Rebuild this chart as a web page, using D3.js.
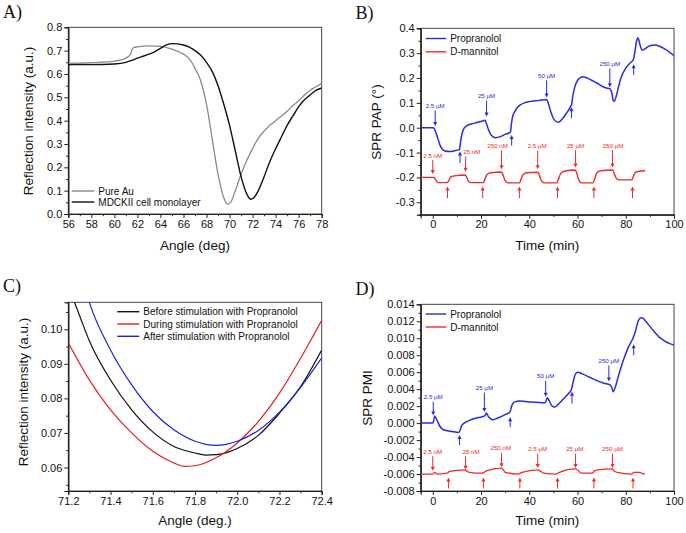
<!DOCTYPE html>
<html><head><meta charset="utf-8">
<script src="https://cdn.jsdelivr.net/npm/d3@7"></script>
<style>body{margin:0;background:#fff} svg{display:block}</style>
</head><body><svg id="c" width="686" height="533"></svg>
<script>
// ---------- Panel A data ----------
const pureAu = [[56,0.645],[58,0.648],[60,0.655],[61,0.668],[61.4,0.685],[61.55,0.705],[61.7,0.714],[62,0.716],[63,0.72],[64,0.718],[65,0.706],[66,0.685],[66.5,0.665],[67,0.625],[67.5,0.57],[68,0.47],[68.5,0.32],[69,0.17],[69.5,0.07],[69.8,0.042],[70.1,0.05],[70.5,0.1],[71,0.17],[71.5,0.23],[72,0.28],[72.5,0.325],[73,0.355],[73.5,0.38],[74,0.4],[74.5,0.42],[75,0.44],[75.5,0.465],[76,0.485],[76.5,0.51],[77,0.53],[77.5,0.545],[78,0.56]];
const mdck = [[56,0.64],[58,0.64],[60,0.643],[61,0.65],[61.5,0.658],[62,0.668],[62.5,0.676],[63,0.685],[63.5,0.695],[64,0.71],[64.5,0.724],[65,0.73],[65.5,0.729],[66,0.724],[66.5,0.715],[67,0.7],[67.5,0.68],[68,0.65],[68.5,0.61],[69,0.55],[69.5,0.47],[70,0.38],[70.5,0.27],[71,0.16],[71.5,0.085],[71.85,0.063],[72.2,0.075],[72.5,0.1],[73,0.16],[73.5,0.225],[74,0.28],[74.5,0.33],[75,0.38],[75.5,0.42],[76,0.46],[76.5,0.49],[77,0.51],[77.5,0.53],[78,0.54]];
const legendA = ["Pure Au","MDCKII cell monolayer"];

// ---------- Panel B data (SPR PAP) ----------
const propPAP = [[-5,0],[0,0],[0.5,-0.002],[1,-0.012],[2,-0.04],[3,-0.07],[4,-0.087],[5,-0.094],[7,-0.096],[9,-0.093],[11,-0.088],[11.5,-0.06],[12,-0.03],[12.5,-0.012],[13,-0.002],[14,0.007],[16,0.015],[18,0.02],[20,0.025],[21.7,0.03],[22.2,0.018],[23,-0.005],[24,-0.027],[25,-0.037],[26,-0.04],[28,-0.036],[30,-0.027],[32.2,-0.018],[32.6,0.015],[33,0.04],[34,0.065],[35,0.08],[36,0.09],[38,0.1],[40,0.105],[44,0.11],[47.2,0.114],[48,0.095],[49,0.062],[50,0.037],[51,0.026],[52,0.022],[53,0.028],[55,0.052],[57,0.083],[57.6,0.095],[58,0.125],[59,0.168],[60,0.19],[61,0.2],[62,0.205],[64,0.2],[66,0.19],[68,0.18],[70,0.168],[72,0.16],[73.6,0.155],[74.2,0.14],[74.8,0.11],[75.2,0.106],[76,0.125],[77,0.165],[78,0.2],[80,0.24],[82,0.262],[83.2,0.275],[84,0.32],[84.5,0.35],[85,0.362],[85.5,0.35],[86,0.33],[87,0.312],[88,0.318],[90,0.33],[92,0.333],[94,0.328],[96,0.318],[98,0.305],[100,0.29]];
const mannPAP = [[-5,-0.2],[0,-0.2],[0.8,-0.203],[1.5,-0.215],[2.5,-0.221],[6,-0.221],[6.5,-0.215],[7.5,-0.198],[9,-0.194],[13.3,-0.19],[13.8,-0.195],[14.8,-0.215],[16,-0.221],[21,-0.221],[21.5,-0.21],[22.5,-0.188],[24,-0.181],[28.4,-0.178],[28.9,-0.185],[30,-0.213],[31.2,-0.222],[36,-0.222],[36.5,-0.21],[37.5,-0.188],[39,-0.181],[43.5,-0.179],[44,-0.186],[45,-0.213],[46.2,-0.222],[51.5,-0.222],[52,-0.21],[53,-0.185],[54.5,-0.175],[59,-0.17],[59.5,-0.178],[60.5,-0.21],[61.7,-0.222],[66.5,-0.222],[67,-0.21],[68,-0.182],[69.5,-0.173],[74.5,-0.17],[75,-0.178],[76,-0.203],[77.2,-0.21],[82.5,-0.21],[83,-0.2],[84,-0.18],[85.5,-0.175],[88,-0.173]];
// arrows: [t, tail, tip, label, labelT]
const blueDownB = [[1,0.069,0.007,"2.5 µM",1],[22.3,0.109,0.045,"25 µM",22.3],[47.2,0.19,0.122,"50 µM",47.2],[73.4,0.239,0.163,"250 µM",73.4]];
const blueUpB = [[11.3,-0.143,-0.096],[32.7,-0.072,-0.029],[57.5,0.038,0.082],[83.3,0.212,0.255]];
const redDownB = [[0,-0.13,-0.186,"2.5 nM",0],[13.6,-0.116,-0.177,"25 nM",16.2],[28.5,-0.092,-0.167,"250 nM",26.9],[43.5,-0.092,-0.167,"2.5 µM",43.3],[59.2,-0.09,-0.16,"25 µM",59.2],[74.5,-0.09,-0.16,"250 µM",74.7]];
const redUpB = [[6.1,-0.284,-0.237],[20.7,-0.284,-0.237],[35.9,-0.284,-0.237],[51.7,-0.284,-0.237],[66.8,-0.284,-0.237],[82.8,-0.284,-0.237]];
const legendB = ["Propranolol","D-mannitol"];

// ---------- Panel C data ----------
const beforeC = [[71.2,0.1125],[71.25,0.1045],[71.3,0.0966],[71.4,0.0853],[71.5,0.0767],[71.6,0.0703],[71.7,0.0661],[71.8,0.0642],[71.85,0.0636],[71.9,0.0637],[72.0,0.0655],[72.1,0.0693],[72.2,0.0757],[72.3,0.0834],[72.4,0.094]];
const duringC = [[71.2,0.0961],[71.3,0.0853],[71.4,0.0767],[71.5,0.07],[71.6,0.0647],[71.7,0.0613],[71.75,0.0603],[71.8,0.0605],[71.9,0.0628],[72.0,0.0671],[72.1,0.0733],[72.2,0.0815],[72.3,0.0916],[72.4,0.1026]];
const afterC = [[71.25,0.1185],[71.3,0.1077],[71.4,0.094],[71.5,0.0839],[71.6,0.0762],[71.7,0.0709],[71.8,0.0676],[71.9,0.0664],[72.0,0.0676],[72.1,0.0707],[72.2,0.076],[72.3,0.0832],[72.4,0.0917]];
const legendC = ["Before stimulation with Propranolol","During stimulation with Propranolol","After stimulation with Propranolol"];

// ---------- Panel D data (SPR PMI) ----------
const propPMI = [[-5,0],[0,0],[0.3,0.0002],[0.8,0.00085],[1.3,0.0006],[2,0.0002],[3,-0.0004],[4,-0.0007],[6,-0.0009],[8,-0.001],[10.8,-0.0011],[11.4,-0.0008],[12,-0.0003],[13,0],[15,0.0003],[18,0.0006],[21,0.0008],[21.7,0.0009],[22.2,0.0012],[23,0.0008],[24,0.0005],[25,0.0004],[27,0.0006],[30,0.001],[32,0.0013],[32.5,0.0018],[33,0.0022],[34,0.0025],[36,0.0026],[40,0.0025],[46.5,0.0024],[47,0.0026],[47.5,0.003],[48.5,0.0025],[49.5,0.002],[50.5,0.0019],[52,0.0022],[54,0.0028],[56,0.0034],[57.5,0.004],[58,0.0046],[59,0.0057],[60,0.006],[62,0.0058],[65,0.0054],[68,0.005],[71,0.0047],[73.5,0.0045],[74.2,0.0042],[74.8,0.0037],[75.5,0.0041],[77,0.0056],[79,0.0074],[81,0.0089],[83,0.01],[84,0.0108],[85,0.0119],[86,0.0124],[87,0.0124],[88,0.0121],[90,0.0114],[92,0.0107],[94,0.0101],[96,0.0097],[98,0.0094],[100,0.0092]];
const mannPMI = [[-5,-0.006],[0,-0.006],[0.8,-0.0058],[1.8,-0.006],[6,-0.0059],[7,-0.0057],[13.3,-0.0055],[14,-0.0056],[15,-0.0058],[20.5,-0.0059],[21.3,-0.0058],[22.5,-0.0056],[28.3,-0.0053],[29,-0.0054],[30,-0.0058],[35.5,-0.006],[37,-0.0058],[43.5,-0.0055],[44.3,-0.0056],[46,-0.0059],[51.3,-0.006],[52.5,-0.0058],[59,-0.0054],[60,-0.0055],[61.5,-0.0059],[66.3,-0.0059],[67,-0.0056],[68.5,-0.0055],[74.3,-0.0054],[75,-0.0056],[76.5,-0.0058],[82.5,-0.006],[83.3,-0.0058],[86,-0.0058],[86.5,-0.0059],[88,-0.006]];
const blueDownD = [[0.2,0.0025,0.0009,"2.5 µM",0.2],[21.4,0.0036,0.0013,"25 µM",21.4],[46.8,0.005,0.0031,"50 µM",46.8],[73,0.0068,0.0049,"250 µM",73]];
const blueUpD = [[11.1,-0.0026,-0.0014],[32.1,-0.0005,0.0007],[57.7,0.0023,0.0037],[83.3,0.008,0.0093]];
const redDownD = [[0,-0.0039,-0.0056,"2.5 nM",0],[13.6,-0.0039,-0.0055,"25 nM",15.9],[28.5,-0.0035,-0.0052,"250 nM",28.2],[43.5,-0.0036,-0.0053,"2.5 µM",43.5],[59.2,-0.0036,-0.0053,"25 µM",58.9],[74.5,-0.0036,-0.0053,"250 µM",74.5]];
const redUpD = [[6.5,-0.0077,-0.0064],[21,-0.0077,-0.0064],[36.1,-0.0077,-0.0064],[51.7,-0.0077,-0.0064],[66.8,-0.0077,-0.0064],[83,-0.0077,-0.0064]];

const BLUE = "#2a2ae0", RED = "#ee2a2a";
const SANS = "'Liberation Sans', Arial, sans-serif";
const SERIF = "'Liberation Serif', 'Times New Roman', serif";
const svg = d3.select("#c");

function rng(a,b,s){ const n=Math.round((b-a)/s); return d3.range(n+1).map(i=>+(a+i*s).toFixed(6)); }

function panel(c){
  const x = d3.scaleLinear().domain(c.xd).range([c.x0,c.x1]);
  const y = d3.scaleLinear().domain(c.yd).range([c.y1,c.y0]);
  const g = svg.append("g");
  svg.append("clipPath").attr("id","clip"+c.name).append("rect")
    .attr("x",c.x0).attr("y",c.y0).attr("width",c.x1-c.x0).attr("height",c.y1-c.y0);
  g.append("rect").attr("x",c.x0).attr("y",c.y0).attr("width",c.x1-c.x0).attr("height",c.y1-c.y0)
    .attr("fill","none").attr("stroke","#333").attr("stroke-width",0.9);
  g.append("g").attr("transform",`translate(0,${c.y1})`)
    .call(d3.axisBottom(x).tickValues(c.xt).tickFormat(c.xf).tickSize(4).tickPadding(2));
  g.append("g").attr("transform",`translate(0,${c.y1})`)
    .call(d3.axisBottom(x).tickValues(c.xm).tickFormat("").tickSize(2.2));
  g.append("g").attr("transform",`translate(${c.x0},0)`)
    .call(d3.axisLeft(y).tickValues(c.yt).tickFormat(c.yf).tickSize(4).tickPadding(2));
  g.append("g").attr("transform",`translate(${c.x0},0)`)
    .call(d3.axisLeft(y).tickValues(c.ym).tickFormat("").tickSize(2.2));
  g.selectAll(".domain").attr("stroke","#222").attr("stroke-width",1);
  g.selectAll(".tick line").attr("stroke","#222");
  g.selectAll(".tick text").attr("font-size",11).attr("fill","#111").style("font-family",SANS);
  svg.append("text").attr("x",(c.x0+c.x1)/2).attr("y",c.xty).attr("text-anchor","middle")
    .attr("font-size",13.5).attr("fill","#111").style("font-family",SANS).text(c.xtitle);
  svg.append("text").attr("transform",`translate(${c.ytx},${c.yty}) rotate(-90)`).attr("text-anchor","middle")
    .attr("dy","0.35em").attr("font-size",13.5).attr("fill","#111").style("font-family",SANS).text(c.ytitle);
  svg.append("text").attr("x",c.lx).attr("y",c.ly).style("font-family",SERIF)
    .attr("font-size",18).attr("fill","#111").text(c.label);
  return {x,y,g,clip:"url(#clip"+c.name+")"};
}

function drawLine(p, data, color, w){
  const line = d3.line().x(d=>p.x(d[0])).y(d=>p.y(d[1])).curve(d3.curveMonotoneX);
  p.g.append("path").datum(data).attr("d",line).attr("fill","none").attr("stroke",color)
    .attr("stroke-width",w).attr("clip-path",p.clip).attr("stroke-linejoin","round");
}

function legend(p, items, colors, lx, ly, dy, len){
  items.forEach((t,i)=>{
    p.g.append("line").attr("x1",lx).attr("x2",lx+len).attr("y1",ly+i*dy).attr("y2",ly+i*dy)
      .attr("stroke",colors[i]).attr("stroke-width",1.4);
    p.g.append("text").attr("x",lx+len+4).attr("y",ly+i*dy).attr("dy","0.35em")
      .attr("font-size",10).attr("fill","#111").style("font-family",SANS).text(t);
  });
}

function arrows(p, list, color, withLabel){
  list.forEach(a=>{
    const xx = p.x(a[0]), yt = p.y(a[1]), yh = p.y(a[2]);
    const dir = yh > yt ? 1 : -1;
    p.g.append("line").attr("x1",xx).attr("x2",xx).attr("y1",yt).attr("y2",yh - dir*3)
      .attr("stroke",color).attr("stroke-width",1);
    p.g.append("path").attr("d",`M${xx-2},${yh-dir*4}L${xx+2},${yh-dir*4}L${xx},${yh}Z`).attr("fill",color);
    if(withLabel && a[3]){
      p.g.append("text").attr("x",p.x(a[4])).attr("y",yt-2.5).attr("text-anchor","middle")
        .attr("font-size",6.2).attr("fill",color).style("font-family",SANS).text(a[3]);
    }
  });
}

// Panel A
const pA = panel({name:"A",x0:68.3,x1:321.7,y0:27.3,y1:214,xd:[56,78],yd:[0,0.8],
  xt:rng(56,78,2),xm:rng(57,77,2),yt:rng(0,0.8,0.1),ym:rng(0.05,0.75,0.1),
  xf:d=>d3.format("d")(d),yf:d=>d.toFixed(1),
  xtitle:"Angle (deg)",xty:250,ytitle:"Reflection intensity (a.u.)",ytx:28.5,yty:121,label:"A)",lx:3,ly:18});
drawLine(pA, pureAu, "#8a8a8a", 1.3);
drawLine(pA, mdck, "#111", 1.4);
legend(pA, legendA, ["#8a8a8a","#111"], 71.7, 191, 11, 22.6);

// Panel B
const pB = panel({name:"B",x0:420.7,x1:674,y0:28.3,y1:214.7,xd:[-5,100],yd:[-0.35,0.4],
  xt:rng(0,100,20),xm:rng(10,90,20),yt:rng(-0.3,0.4,0.1),ym:rng(-0.35,0.35,0.1),
  xf:d=>String(d),yf:d=>d.toFixed(1),
  xtitle:"Time (min)",xty:250,ytitle:"SPR PAP (°)",ytx:376,yty:122,label:"B)",lx:355.5,ly:18.5});
drawLine(pB, propPAP, BLUE, 1.5);
drawLine(pB, mannPAP, RED, 1.4);
arrows(pB, blueDownB, BLUE, true);
arrows(pB, blueUpB, BLUE, false);
arrows(pB, redDownB, RED, true);
arrows(pB, redUpB, RED, false);
legend(pB, legendB, [BLUE,RED], 425.7, 38.5, 13.3, 20.5);

// Panel C
const pC = panel({name:"C",x0:68.3,x1:321.7,y0:302.3,y1:491,xd:[71.2,72.4],yd:[0.0532,0.1078],
  xt:rng(71.2,72.4,0.2),xm:rng(71.3,72.3,0.2),yt:rng(0.06,0.10,0.01),ym:rng(0.055,0.105,0.01),
  xf:d=>d.toFixed(1),yf:d=>d.toFixed(2),
  xtitle:"Angle (deg.)",xty:525,ytitle:"Reflection intensity (a.u.)",ytx:23,yty:392,label:"C)",lx:3,ly:292});
drawLine(pC, beforeC, "#111", 1.2);
drawLine(pC, duringC, "#e02020", 1.2);
drawLine(pC, afterC, "#2020e0", 1.2);
legend(pC, legendC, ["#111","#e02020","#2020e0"], 117.3, 311.7, 12.3, 22);

// Panel D
const pD = panel({name:"D",x0:420.7,x1:674,y0:304.3,y1:491,xd:[-5,100],yd:[-0.008,0.014],
  xt:rng(0,100,20),xm:rng(10,90,20),yt:rng(-0.008,0.014,0.002),ym:rng(-0.007,0.013,0.002),
  xf:d=>String(d),yf:d=>d.toFixed(3),
  xtitle:"Time (min)",xty:525,ytitle:"SPR PMI",ytx:367,yty:398,label:"D)",lx:355.5,ly:295});
drawLine(pD, propPMI, BLUE, 1.5);
drawLine(pD, mannPMI, RED, 1.3);
arrows(pD, blueDownD, BLUE, true);
arrows(pD, blueUpD, BLUE, false);
arrows(pD, redDownD, RED, true);
arrows(pD, redUpD, RED, false);
legend(pD, legendB, [BLUE,RED], 425.7, 314, 13, 20.5);
</script></body></html>
